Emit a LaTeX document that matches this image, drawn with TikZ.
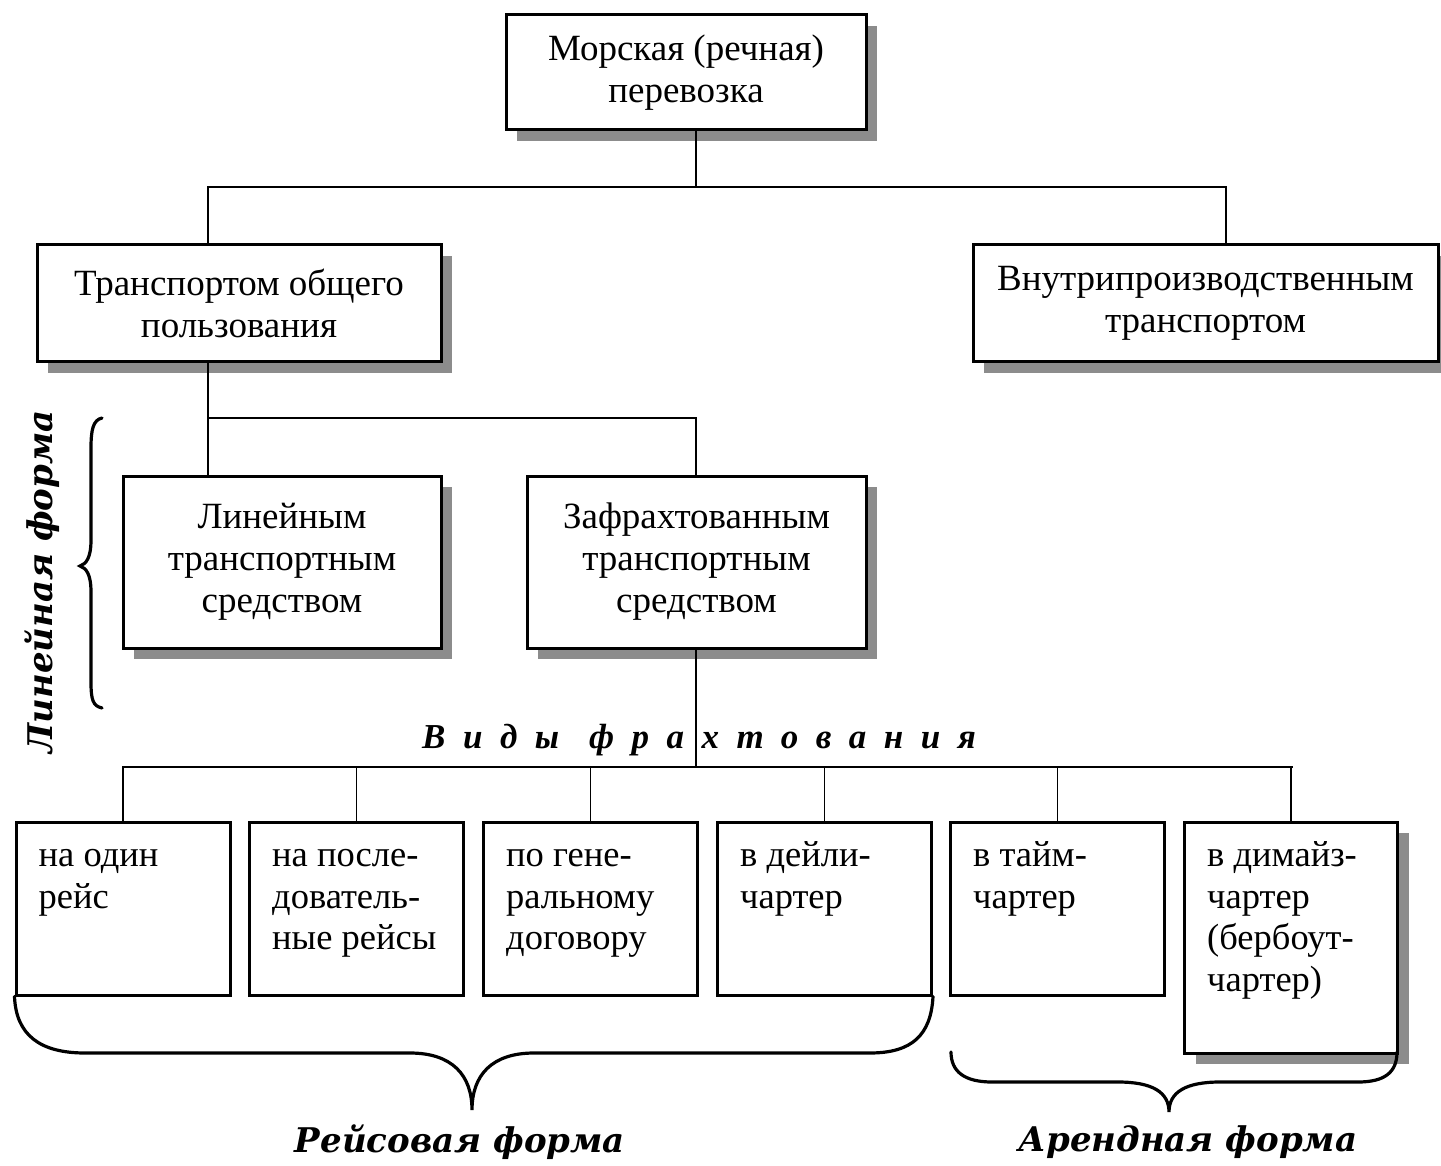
\documentclass[tikz,border=0pt]{standalone}
\usepackage{fontspec}
\setmainfont{Liberation Serif}
\newfontfamily\labfont{DejaVu Serif}
\usetikzlibrary{shadows}
\tikzset{
  box/.style={draw=black, line width=3pt, fill=white, inner sep=0pt, align=center,
    font=\fontsize{37}{42}\selectfont},
  shbox/.style={box, drop shadow={shadow xshift=11pt, shadow yshift=-11pt, fill=black!45, opacity=1}},
  conn/.style={line width=1.5pt, line cap=rect},
  brace/.style={line width=3.2pt, line cap=round},
  txt/.style={inner sep=0pt, anchor=base west, font=\fontsize{36.5}{41.5}\selectfont},
  formlab/.style={inner sep=0pt, font=\labfont\bfseries\itshape\fontsize{34}{40}\selectfont},
}
\newcommand{\bx}[1]{\parbox[t]{190pt}{\raggedright\strut #1}}
\begin{document}
\begin{tikzpicture}[x=1pt,y=-1pt]
\useasboundingbox (0,0) rectangle (1441,1166);
% level 1
\node[shbox, minimum width=360pt, minimum height=115pt] (top) at (686,72.5) {Морская (речная)\\перевозка};
% level 2
\node[shbox, minimum width=404pt, minimum height=117pt] (tog) at (239,303.5) {Транспортом общего\\пользования};
\node[shbox, minimum width=465pt, minimum height=117pt] (vnu) at (1205.5,303.5) {Внутрипроизводственным\\транспортом};
% level 3
\node[shbox, minimum width=318pt, minimum height=172pt] (lin) at (282,562) {Линейным\\транспортным\\средством};
\node[shbox, minimum width=339pt, minimum height=172pt] (zaf) at (696.5,562) {Зафрахтованным\\транспортным\\средством};
% level 4
\node[box, minimum width=214pt, minimum height=173pt] (b1) at (123,908.5) {};
\node[box, minimum width=214pt, minimum height=173pt] (b2) at (356.5,908.5) {};
\node[box, minimum width=214pt, minimum height=173pt] (b3) at (590.5,908.5) {};
\node[box, minimum width=214pt, minimum height=173pt] (b4) at (824.5,908.5) {};
\node[box, minimum width=214pt, minimum height=173pt] (b5) at (1057.5,908.5) {};
\node[shbox, minimum width=213pt, minimum height=231pt] (b6) at (1291,937.5) {};
\node[txt] (t1) at ([xshift=24pt,yshift=-46pt]b1.north west) {\bx{на один\\рейс}};
\node[txt] (t2) at ([xshift=24pt,yshift=-46pt]b2.north west) {\bx{на после-\\дователь-\\ные рейсы}};
\node[txt] (t3) at ([xshift=24pt,yshift=-46pt]b3.north west) {\bx{по гене-\\ральному\\договору}};
\node[txt] (t4) at ([xshift=24pt,yshift=-46pt]b4.north west) {\bx{в дейли-\\чартер}};
\node[txt] (t5) at ([xshift=24pt,yshift=-46pt]b5.north west) {\bx{в тайм-\\чартер}};
\node[txt] (t6) at ([xshift=24pt,yshift=-46pt]b6.north west) {\bx{в димайз-\\чартер\\(бербоут-\\чартер)}};
% connectors
\coordinate (c1) at (696,187);
\coordinate (cL) at (208,187);
\coordinate (cR) at (1226,187);
\draw[conn] (top.south -| c1) -- (c1);
\draw[conn] (cL) -- (cR);
\draw[conn] (cL) -- (tog.north -| cL);
\draw[conn] (cR) -- (vnu.north -| cR);
\coordinate (c2) at (208,418);
\coordinate (c3) at (696,418);
\draw[conn] (tog.south -| c2) -- (c2) -- (c3) -- (zaf.north -| c3);
\draw[conn] (c2) -- (lin.north -| c2);
\coordinate (c4) at (696,767);
\coordinate (c4L) at (123,767);
\coordinate (c4R) at (1292,767);
\draw[conn] (zaf.south -| c4) -- (c4);
\draw[conn] (c4L) -- (c4R);
\foreach \b in {b1,b2,b3,b4,b5,b6} \draw[conn] (\b.north) -- (\b.north |- c4);
% label Виды фрахтования
\node[inner sep=0pt, font=\bfseries\itshape\fontsize{35}{40}\selectfont] (vf) at (699,740)
  {\addfontfeature{LetterSpace=50}Виды\hspace{30pt}фрахтования};
% left brace
\coordinate (lb1) at (102,418);
\coordinate (lb2) at (102,708);
\draw[brace] (lb1) .. controls (93,420) and (91,430) .. (91,448) -- (91,540)
  .. controls (91,558) and (86,564) .. (80,566) .. controls (86,568) and (91,574) .. (91,592)
  -- (91,682) .. controls (91,700) and (93,706) .. (lb2);
\node[formlab, rotate=90] (linf) at (42,582) {Линейная форма};
% bottom brace 1
\draw[brace] (b1.south west) .. controls (16,1035) and (40,1053) .. (85,1053) -- (410,1053)
  .. controls (452,1053) and (472,1075) .. (472,1110)
  .. controls (472,1075) and (492,1053) .. (534,1053) -- (870,1053)
  .. controls (912,1053) and (931,1035) .. (b4.south east);
\node[formlab] (rf) at (460,1142) {Рейсовая форма};
% bottom brace 2
\coordinate (r1) at (951,1052);
\coordinate (r2) at (1397,1052);
\draw[brace] (r1) .. controls (951,1072) and (965,1082) .. (992,1082) -- (1118,1082)
  .. controls (1152,1082) and (1169,1092) .. (1169,1112)
  .. controls (1169,1092) and (1186,1082) .. (1220,1082) -- (1358,1082)
  .. controls (1385,1082) and (1397,1072) .. (r2);
\node[formlab] (af) at (1188,1142) {Арендная форма};
\end{tikzpicture}
\end{document}
